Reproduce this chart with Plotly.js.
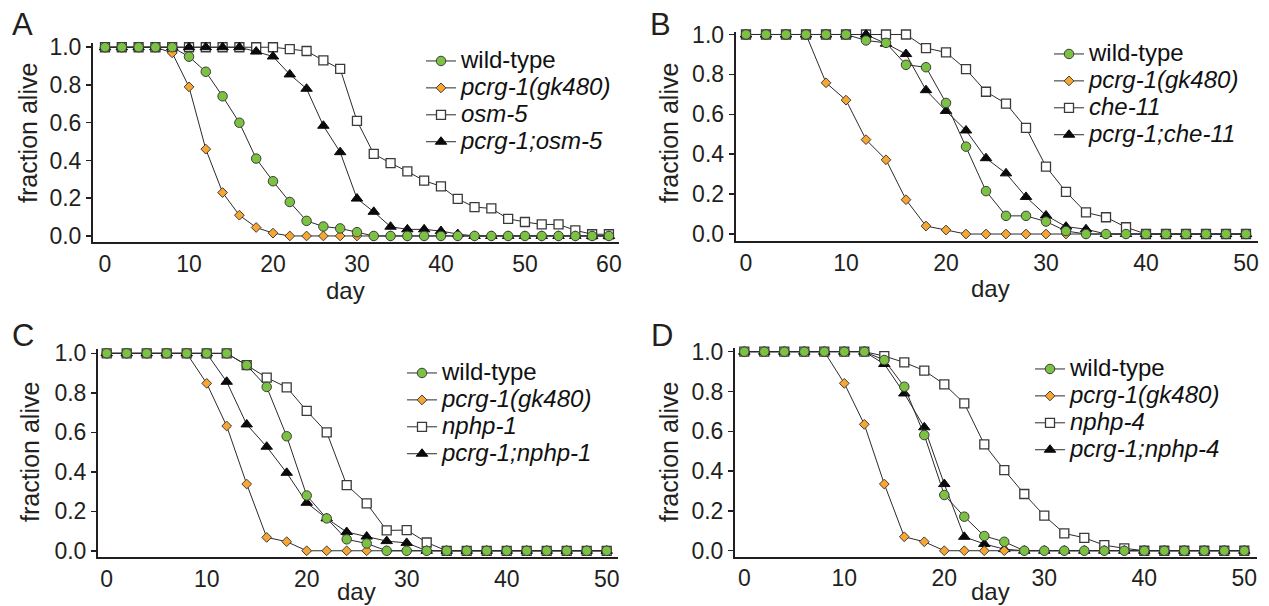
<!DOCTYPE html>
<html>
<head>
<meta charset="utf-8">
<script src="https://cdn.plot.ly/plotly-3.0.1.min.js"></script>
<style>
  html, body { margin: 0; padding: 0; background: #ffffff; }
  #chart { width: 1269px; height: 606px; }
</style>
</head>
<body>
<div id="chart"></div>
<script>
// ---------------- DATA ----------------
const daysA = [0,2,4,6,8,10,12,14,16,18,20,22,24,26,28,30,32,34,36,38,40,42,44,46,48,50,52,54,56,58,60];
const daysBCD = [0,2,4,6,8,10,12,14,16,18,20,22,24,26,28,30,32,34,36,38,40,42,44,46,48,50];

const yTicks = [0, 0.2, 0.4, 0.6, 0.8, 1.0];
const xTicksA = [0, 10, 20, 30, 40, 50, 60];
const xTicksBCD = [0, 10, 20, 30, 40, 50];

// Panel A
const wildTypeA = [1,1,1,1,1,0.95,0.87,0.74,0.60,0.41,0.29,0.18,0.08,0.05,0.04,0.02,0,0,0,0,0,0,0,0,0,0,0,0,0,0,0];
const pcrgA     = [1,1,1,1,0.97,0.79,0.46,0.23,0.11,0.045,0.015,0,0,0,0,0,0,0,0,0,0,0,0,0,0,0,0,0,0,0,0];
const osm5A     = [1,1,1,1,1,1,1,1,1,1,1,0.99,0.98,0.93,0.885,0.61,0.435,0.386,0.342,0.293,0.263,0.196,0.153,0.146,0.091,0.074,0.061,0.061,0.03,0.009,0.009];
const pcrgOsm5A = [1,1,1,1,1,1,1,1,1,0.977,0.951,0.856,0.78,0.584,0.444,0.198,0.128,0.049,0.035,0.035,0.026,0.01,0,0,0,0,0,0,0,0,0];

// Panel B
const wildTypeB  = [1,1,1,1,1,1,0.97,0.958,0.848,0.836,0.657,0.438,0.215,0.091,0.091,0.0625,0.015,0,0,0,0,0,0,0,0,0];
const pcrgB      = [1,1,1,1,0.758,0.671,0.473,0.372,0.172,0.04,0.02,0,0,0,0,0,0,0,0,0,0,0,0,0,0,0];
const che11B     = [1,1,1,1,1,1,1,1,1,0.932,0.91,0.826,0.713,0.654,0.532,0.338,0.211,0.108,0.084,0.034,0,0,0,0,0,0];
const pcrgChe11B = [1,1,1,1,1,1,1,0.954,0.902,0.721,0.617,0.519,0.38,0.304,0.186,0.093,0.037,0.024,0,0,0,0,0,0,0,0];

// Panel C
const wildTypeC  = [1,1,1,1,1,1,1,0.94,0.83,0.58,0.28,0.164,0.058,0.037,0,0,0,0,0,0,0,0,0,0,0,0];
const pcrgC      = [1,1,1,1,1,0.848,0.632,0.338,0.068,0.046,0,0,0,0,0,0,0,0,0,0,0,0,0,0,0,0];
const nphp1C     = [1,1,1,1,1,1,1,0.94,0.877,0.828,0.709,0.6,0.333,0.24,0.103,0.105,0.042,0,0,0,0,0,0,0,0,0];
const pcrgNphp1C = [1,1,1,1,1,1,0.856,0.64,0.527,0.395,0.243,0.164,0.095,0.072,0.049,0.04,0,0,0,0,0,0,0,0,0,0];

// Panel D
const wildTypeD  = [1,1,1,1,1,1,1,0.958,0.824,0.581,0.28,0.171,0.074,0.045,0,0,0,0,0,0,0,0,0,0,0,0];
const pcrgD      = [1,1,1,1,1,0.841,0.635,0.335,0.07,0.045,0,0,0,0,0,0,0,0,0,0,0,0,0,0,0,0];
const nphp4D     = [1,1,1,1,1,1,1,0.978,0.946,0.905,0.836,0.74,0.534,0.405,0.285,0.176,0.087,0.065,0.028,0.012,0,0,0,0,0,0];
const pcrgNphp4D = [1,1,1,1,1,1,1,0.938,0.79,0.62,0.335,0.07,0.034,0.008,0,0,0,0,0,0,0,0,0,0,0,0];

const labelsA = ['wild-type', 'pcrg-1(gk480)', 'osm-5', 'pcrg-1;osm-5'];
const labelsB = ['wild-type', 'pcrg-1(gk480)', 'che-11', 'pcrg-1;che-11'];
const labelsC = ['wild-type', 'pcrg-1(gk480)', 'nphp-1', 'pcrg-1;nphp-1'];
const labelsD = ['wild-type', 'pcrg-1(gk480)', 'nphp-4', 'pcrg-1;nphp-4'];
const panelLetters = ['A', 'B', 'C', 'D'];
const xTitle = 'day';
const yTitle = 'fraction alive';

// ---------------- STYLE ----------------
const W = 1269, H = 606;
const px = v => v / W;
const py = v => 1 - v / H;
const FONT = 'Liberation Sans, Arial, Helvetica, sans-serif';
const INK = '#231f20';
const LINE = '#2b2b2b';

const styles = [
  { symbol: 'circle',       size: 9.5, color: '#7cc242', lineColor: '#3d3d3d', lineW: 1,   rank: 1 },
  { symbol: 'diamond',      size: 7.5, color: '#f8a631', lineColor: '#3d3d3d', lineW: 1,   rank: 2 },
  { symbol: 'square',       size: 9,   color: '#ffffff', lineColor: '#3a3a3a', lineW: 1.3, rank: 3 },
  { symbol: 'triangle-up',  size: 10,  color: '#0a0a0a', lineColor: '#0a0a0a', lineW: 1,   rank: 4 }
];

function legendName(label, italic) {
  const t = italic ? '<i>' + label + '</i>' : label;
  return '<span style="font-size:24px">' + t + '</span>';
}

const panels = [
  { days: daysA,   series: [wildTypeA, pcrgA, osm5A, pcrgOsm5A],   labels: labelsA, xTicks: xTicksA },
  { days: daysBCD, series: [wildTypeB, pcrgB, che11B, pcrgChe11B], labels: labelsB, xTicks: xTicksBCD },
  { days: daysBCD, series: [wildTypeC, pcrgC, nphp1C, pcrgNphp1C], labels: labelsC, xTicks: xTicksBCD },
  { days: daysBCD, series: [wildTypeD, pcrgD, nphp4D, pcrgNphp4D], labels: labelsD, xTicks: xTicksBCD }
];

// geometry (pixels) per panel
const geom = [
  { xd: [93, 619],       xr: [-1.43, 61.2],  yd: [42.7, 242],    yr: [-0.032, 1.024], leg: [421, 42.5],  letter: [22, 24],  yt: [28, 133],  xt: [345, 290] },
  { xd: [735.7, 1257.5], xr: [-1.03, 51.15], yd: [31.7, 241],    yr: [-0.035, 1.014], leg: [1049, 35.5], letter: [660, 24], yt: [669, 133], xt: [990, 288] },
  { xd: [98, 618],       xr: [-0.87, 51.13], yd: [349, 557.3],   yr: [-0.033, 1.022], leg: [402, 354.5], letter: [23, 335], yt: [30, 452],  xt: [356, 591] },
  { xd: [735, 1257],     xr: [-0.93, 51.27], yd: [347.7, 556.7], yr: [-0.03, 1.02],   leg: [1030, 350.5], letter: [662, 335], yt: [669, 452], xt: [990, 591] }
];

const drawOrder = [2, 3, 1, 0]; // squares, triangles, diamonds, circles (circles on top)
const traces = [];
const layout = {
  width: W, height: H,
  margin: { l: 0, r: 0, t: 0, b: 0, pad: 0 },
  paper_bgcolor: '#ffffff', plot_bgcolor: 'rgba(0,0,0,0)',
  font: { family: FONT, color: INK, size: 23 },
  annotations: [],
  showlegend: true
};

panels.forEach((p, i) => {
  const g = geom[i];
  const n = i === 0 ? '' : String(i + 1);
  const legKey = 'legend' + n;
  drawOrder.forEach(k => {
    const s = styles[k];
    traces.push({
      type: 'scatter', mode: 'lines+markers',
      x: p.days, y: p.series[k],
      xaxis: 'x' + n, yaxis: 'y' + n,
      name: legendName(p.labels[k], k !== 0),
      legend: legKey, legendrank: s.rank,
      line: { color: LINE, width: 1 },
      marker: { symbol: s.symbol, size: s.size, color: s.color, line: { color: s.lineColor, width: s.lineW } },
      cliponaxis: false,
      hoverinfo: 'skip'
    });
  });
  layout['xaxis' + n] = {
    domain: [px(g.xd[0]), px(g.xd[1])], range: g.xr, anchor: 'y' + n,
    showline: true, linecolor: INK, linewidth: 2, mirror: false,
    ticks: '', tickvals: p.xTicks, ticktext: p.xTicks.map(String),
    tickfont: { family: FONT, size: 23, color: INK },
    showgrid: false, zeroline: false, fixedrange: true
  };
  layout['yaxis' + n] = {
    domain: [py(g.yd[1]), py(g.yd[0])], range: g.yr, anchor: 'x' + n,
    showline: true, linecolor: INK, linewidth: 2,
    ticks: 'outside', ticklen: 5, tickwidth: 1.5, tickcolor: INK,
    tickvals: yTicks, ticktext: yTicks.map(v => v.toFixed(1)),
    tickfont: { family: FONT, size: 23, color: INK },
    showgrid: false, zeroline: false, fixedrange: true
  };
  layout[legKey] = {
    x: px(g.leg[0]), y: py(g.leg[1]), xanchor: 'left', yanchor: 'top',
    bgcolor: 'rgba(0,0,0,0)', borderwidth: 0,
    font: { family: FONT, size: 18.4, color: '#111111' },
    traceorder: 'normal'
  };
  layout.annotations.push(
    { text: panelLetters[i], xref: 'paper', yref: 'paper', x: px(g.letter[0]), y: py(g.letter[1]),
      xanchor: 'center', yanchor: 'middle', showarrow: false, font: { family: FONT, size: 31, color: INK } },
    { text: yTitle, xref: 'paper', yref: 'paper', x: px(g.yt[0]), y: py(g.yt[1]), textangle: -90,
      xanchor: 'center', yanchor: 'middle', showarrow: false, font: { family: FONT, size: 25, color: INK } },
    { text: xTitle, xref: 'paper', yref: 'paper', x: px(g.xt[0]), y: py(g.xt[1]),
      xanchor: 'center', yanchor: 'middle', showarrow: false, font: { family: FONT, size: 24, color: INK } }
  );
});

Plotly.newPlot('chart', traces, layout, { staticPlot: true, displayModeBar: false });
</script>
</body>
</html>
